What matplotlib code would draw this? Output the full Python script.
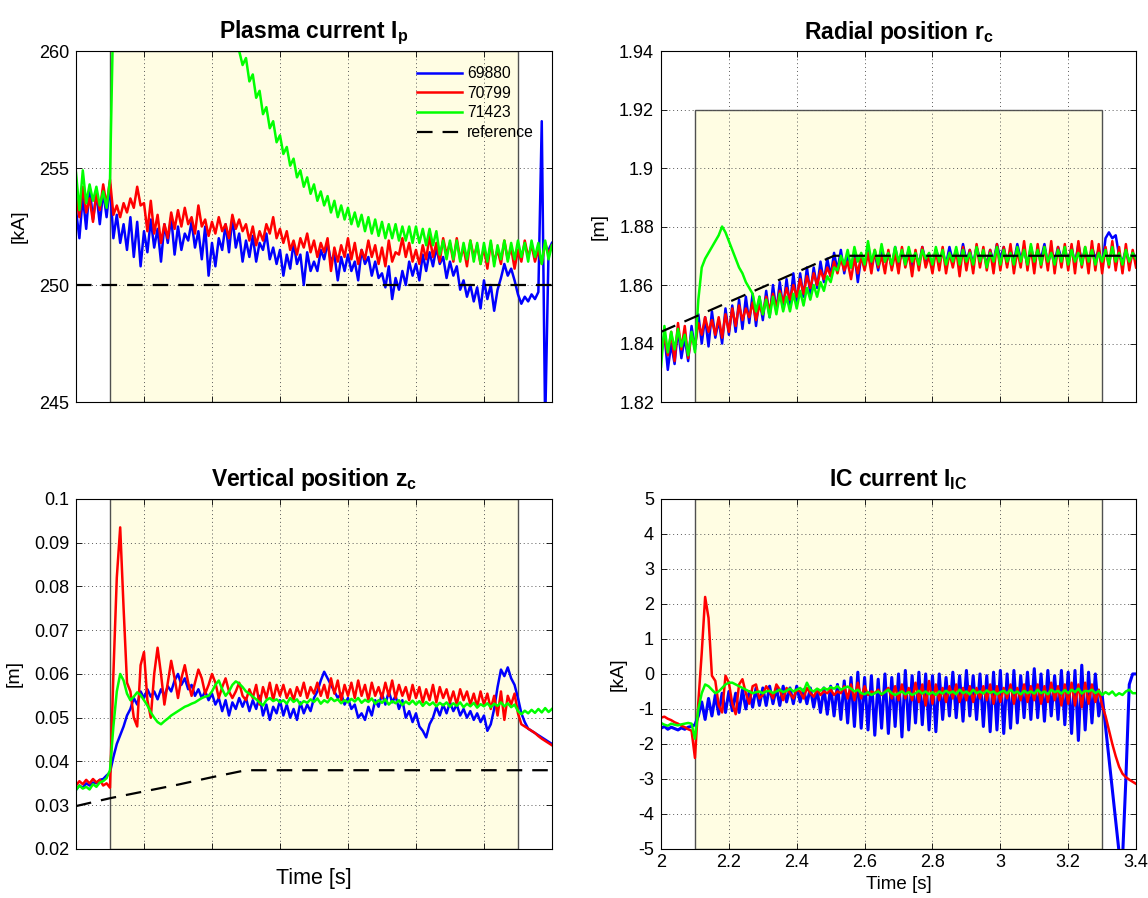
import numpy as np
import matplotlib
matplotlib.use("Agg")
import matplotlib.pyplot as plt
from matplotlib.patches import Rectangle
from matplotlib.ticker import FuncFormatter

plt.rcParams['font.family'] = ['Liberation Sans', 'DejaVu Sans']
plt.rcParams['mathtext.fontset'] = 'custom'
plt.rcParams['mathtext.rm'] = 'Liberation Sans'
plt.rcParams['mathtext.bf'] = 'Liberation Sans:bold'

# sampling grid of the traces, 2.00 .. 3.40 s every 10 ms
time = np.round(2.0 + 0.01 * np.arange(141), 2)
shots = ['69880', '70799', '71423']
colors = ['#0000ff', '#ff0000', '#00ff00']
shade_start, shade_end = 2.1, 3.3

# plasma current [kA]
ip_69880 = [253.2, 252.0, 253.8, 252.4, 254.2, 252.8, 253.9, 252.6, 254.0, 252.9,
            254.3, 252.0, 253.0, 251.8, 252.6, 251.5, 252.9, 251.2, 252.7, 250.8,
            252.3, 251.4, 252.8, 251.6, 252.4, 251.0, 252.6, 251.8, 252.9, 251.3,
            252.5, 251.5, 252.2, 251.9, 252.7, 251.6, 252.3, 251.1, 252.5, 250.4,
            251.8, 250.8, 252.0, 251.5, 252.6, 251.4, 252.9, 251.6, 252.2, 251.0,
            251.9, 251.2, 252.1, 251.0, 251.8, 251.5, 252.2, 251.1, 251.6, 250.9,
            251.5, 250.4, 251.3, 250.7, 251.8, 250.9, 251.3, 250.0, 251.4, 250.6,
            251.0, 250.6, 251.5, 251.1, 251.8, 251.0, 251.3, 250.2, 251.2, 250.6,
            251.3, 250.6, 251.0, 250.2, 251.5, 250.9, 251.2, 250.4, 251.0, 250.3,
            250.5, 249.9, 250.8, 249.4, 250.3, 249.8, 250.6, 250.0, 251.0, 250.4,
            250.9, 250.2, 251.3, 250.6, 251.4, 250.8, 251.6, 250.9, 251.2, 250.3,
            251.0, 250.4, 250.8, 249.8, 250.2, 249.5, 250.0, 249.3, 249.9, 249.0,
            250.2, 249.4, 250.0, 248.9, 249.8, 250.3, 250.9, 250.4, 250.7, 250.2,
            249.6, 249.2, 249.5, 249.3, 249.6, 249.4, 249.7, 257.0, 244.0, 251.5,
            251.8]
ip_70799 = [253.8, 252.9, 254.2, 253.1, 253.7, 252.7, 253.9, 253.2, 254.3, 253.4,
            254.5, 253.0, 253.4, 252.9, 253.5, 253.1, 253.7, 253.3, 254.2, 253.4,
            253.5, 252.3, 253.6, 252.2, 253.0, 251.8, 252.6, 252.0, 253.1, 252.4,
            253.2, 252.5, 253.3, 252.6, 252.9, 252.2, 253.4, 252.5, 252.8, 252.1,
            252.7, 252.2, 252.9, 252.3, 252.6, 252.0, 253.0, 252.4, 252.8, 252.3,
            252.6, 251.9, 252.5, 251.7, 252.3, 251.9, 252.6, 252.2, 252.9, 252.0,
            252.4, 251.8, 252.3, 251.5, 251.9, 251.3, 252.0, 251.6, 252.2, 251.4,
            251.9, 251.2, 251.8, 251.4, 252.0, 250.6, 251.6, 251.0, 251.7, 251.2,
            252.0, 251.1, 251.8, 250.9, 251.5, 251.1, 251.9, 251.2, 251.7, 250.9,
            251.6, 250.8, 251.9, 251.0, 251.4, 251.3, 252.0, 251.2, 251.8, 251.0,
            251.5, 250.9, 251.7, 251.1, 252.1, 251.2, 251.8, 251.0, 252.0, 251.3,
            251.8, 251.0, 252.0, 251.1, 251.6, 250.8, 251.9, 251.2, 251.7, 250.9,
            251.6, 250.7, 251.8, 251.0, 251.5, 250.9, 251.9, 251.1, 251.6, 250.7,
            251.5, 251.0, 251.9, 251.2, 251.7, 251.0, 251.5, 250.9, 251.8, 251.3,
            251.7]
ip_71423 = [254.8, 253.2, 254.9, 253.5, 254.3, 253.6, 254.2, 253.4, 254.0, 253.3,
            254.5, 262.0, 268.0, 272.0, 274.0, 275.0, 275.0, 274.5, 274.0, 273.0,
            272.0, 271.0, 270.0, 269.0, 268.0, 267.2, 266.4, 265.7, 265.0, 264.4,
            266.0, 265.6, 265.2, 264.8, 264.4, 264.0, 263.7, 263.4, 263.1, 262.8,
            262.5, 262.2, 261.9, 261.6, 261.3, 261.0, 260.7, 260.4, 260.0, 259.4,
            259.7, 258.7, 259.0, 258.0, 258.3, 257.3, 257.6, 256.7, 257.0, 256.1,
            256.4, 255.6, 255.9, 255.1, 255.4, 254.6, 254.9, 254.2, 254.6, 253.9,
            254.3, 253.6, 254.0, 253.4, 253.8, 253.1, 253.6, 252.9, 253.4, 252.8,
            253.3, 252.6, 253.1, 252.5, 253.0, 252.3, 252.9, 252.2, 252.8, 252.1,
            252.7, 252.0, 252.6, 252.0, 252.6, 251.9, 252.5, 251.9, 252.5, 251.8,
            252.5, 251.8, 252.4, 251.7, 252.4, 251.7, 252.3, 251.3, 251.9, 251.1,
            251.9, 251.1, 251.9, 251.0, 251.8, 251.1, 251.9, 251.0, 251.8, 250.9,
            251.8, 251.0, 251.9, 250.8, 251.7, 251.1, 251.9, 251.0, 251.8, 251.1,
            251.9, 251.2, 251.8, 251.0, 251.9, 251.2, 251.8, 250.9, 251.9, 251.1,
            251.7]
ip_ref_t = [2.0, 3.4]
ip_ref = [250.0, 250.0]

# radial position [m]
rc_69880 = [1.836, 1.843, 1.831, 1.840, 1.833, 1.845, 1.835, 1.842, 1.834, 1.846,
            1.838, 1.850, 1.840, 1.849, 1.839, 1.851, 1.842, 1.848, 1.840, 1.852,
            1.843, 1.853, 1.844, 1.855, 1.845, 1.856, 1.847, 1.857, 1.846, 1.856,
            1.848, 1.858, 1.849, 1.860, 1.851, 1.861, 1.852, 1.862, 1.853, 1.864,
            1.854, 1.864, 1.856, 1.866, 1.857, 1.866, 1.859, 1.868, 1.861, 1.869,
            1.863, 1.871, 1.865, 1.872, 1.864, 1.870, 1.866, 1.871, 1.861, 1.870,
            1.866, 1.872, 1.867, 1.871, 1.865, 1.872, 1.868, 1.871, 1.866, 1.873,
            1.867, 1.871, 1.868, 1.872, 1.866, 1.871, 1.867, 1.873, 1.868, 1.870,
            1.866, 1.872, 1.869, 1.871, 1.867, 1.873, 1.868, 1.872, 1.867, 1.874,
            1.868, 1.872, 1.867, 1.873, 1.869, 1.871, 1.867, 1.872, 1.868, 1.874,
            1.869, 1.873, 1.867, 1.872, 1.868, 1.874, 1.869, 1.872, 1.867, 1.873,
            1.868, 1.872, 1.869, 1.874, 1.867, 1.872, 1.868, 1.873, 1.869, 1.872,
            1.868, 1.873, 1.867, 1.874, 1.868, 1.872, 1.867, 1.873, 1.869, 1.872,
            1.866, 1.876, 1.878, 1.876, 1.877, 1.870, 1.868, 1.872, 1.867, 1.871,
            1.869]
rc_70799 = [1.838, 1.842, 1.836, 1.844, 1.834, 1.847, 1.838, 1.846, 1.835, 1.843,
            1.839, 1.847, 1.843, 1.849, 1.844, 1.848, 1.843, 1.849, 1.842, 1.850,
            1.844, 1.852, 1.846, 1.853, 1.848, 1.852, 1.849, 1.854, 1.848, 1.853,
            1.850, 1.856, 1.851, 1.857, 1.852, 1.858, 1.854, 1.859, 1.855, 1.860,
            1.856, 1.862, 1.857, 1.863, 1.859, 1.864, 1.860, 1.865, 1.862, 1.866,
            1.863, 1.868, 1.864, 1.869, 1.865, 1.868, 1.862, 1.869, 1.864, 1.870,
            1.865, 1.871, 1.864, 1.872, 1.866, 1.870, 1.864, 1.872, 1.865, 1.871,
            1.864, 1.873, 1.866, 1.871, 1.863, 1.872, 1.865, 1.873, 1.866, 1.870,
            1.864, 1.872, 1.865, 1.873, 1.864, 1.871, 1.866, 1.872, 1.863, 1.873,
            1.865, 1.872, 1.864, 1.874, 1.866, 1.873, 1.865, 1.872, 1.864, 1.874,
            1.865, 1.873, 1.866, 1.874, 1.864, 1.872, 1.866, 1.875, 1.865, 1.873,
            1.864, 1.874, 1.866, 1.873, 1.865, 1.875, 1.864, 1.873, 1.866, 1.874,
            1.865, 1.874, 1.864, 1.875, 1.866, 1.873, 1.864, 1.875, 1.865, 1.874,
            1.864, 1.873, 1.866, 1.875, 1.865, 1.873, 1.864, 1.874, 1.865, 1.872,
            1.866]
rc_71423 = [1.832, 1.846, 1.837, 1.844, 1.838, 1.845, 1.839, 1.843, 1.836, 1.844,
            1.837, 1.855, 1.866, 1.869, 1.871, 1.873, 1.875, 1.877, 1.880, 1.878,
            1.875, 1.872, 1.869, 1.866, 1.864, 1.861, 1.859, 1.857, 1.851, 1.856,
            1.850, 1.855, 1.849, 1.856, 1.850, 1.857, 1.851, 1.856, 1.851, 1.857,
            1.852, 1.858, 1.853, 1.859, 1.855, 1.860, 1.856, 1.861, 1.858, 1.863,
            1.861, 1.866, 1.865, 1.870, 1.867, 1.872, 1.866, 1.873, 1.868, 1.871,
            1.867, 1.875, 1.868, 1.872, 1.867, 1.874, 1.868, 1.871, 1.867, 1.873,
            1.868, 1.872, 1.867, 1.873, 1.868, 1.871, 1.867, 1.872, 1.869, 1.871,
            1.867, 1.873, 1.868, 1.872, 1.867, 1.871, 1.868, 1.873, 1.867, 1.872,
            1.868, 1.871, 1.867, 1.873, 1.868, 1.872, 1.866, 1.871, 1.868, 1.873,
            1.867, 1.872, 1.868, 1.871, 1.867, 1.873, 1.868, 1.872, 1.867, 1.874,
            1.868, 1.872, 1.867, 1.873, 1.868, 1.871, 1.867, 1.872, 1.868, 1.873,
            1.867, 1.872, 1.868, 1.871, 1.867, 1.873, 1.868, 1.872, 1.867, 1.871,
            1.868, 1.872, 1.867, 1.873, 1.868, 1.871, 1.867, 1.872, 1.868, 1.871,
            1.869]
rc_ref_t = [2.0, 2.51, 3.4]
rc_ref = [1.844, 1.870, 1.870]

# vertical position [m]
zc_69880 = [0.0335, 0.0345, 0.0340, 0.0350, 0.0345, 0.0352, 0.0350, 0.0358, 0.0360, 0.0368,
            0.0375, 0.0410, 0.0440, 0.0460, 0.0480, 0.0505, 0.0520, 0.0545, 0.0530, 0.0560,
            0.0545, 0.0565, 0.0548, 0.0560, 0.0542, 0.0565, 0.0550, 0.0572, 0.0560, 0.0585,
            0.0600, 0.0575, 0.0590, 0.0565, 0.0575, 0.0550, 0.0565, 0.0545, 0.0560, 0.0540,
            0.0555, 0.0530, 0.0545, 0.0515, 0.0540, 0.0505, 0.0535, 0.0520, 0.0545, 0.0525,
            0.0545, 0.0515, 0.0540, 0.0520, 0.0550, 0.0505, 0.0530, 0.0495, 0.0525, 0.0510,
            0.0540, 0.0505, 0.0530, 0.0500, 0.0520, 0.0495, 0.0535, 0.0510, 0.0530, 0.0515,
            0.0545, 0.0560, 0.0585, 0.0605, 0.0590, 0.0575, 0.0560, 0.0545, 0.0555, 0.0530,
            0.0545, 0.0520, 0.0530, 0.0500, 0.0510, 0.0495, 0.0525, 0.0505, 0.0540, 0.0525,
            0.0555, 0.0530, 0.0560, 0.0535, 0.0550, 0.0520, 0.0540, 0.0500, 0.0515, 0.0490,
            0.0510, 0.0480, 0.0470, 0.0455, 0.0485, 0.0500, 0.0525, 0.0505, 0.0530, 0.0510,
            0.0535, 0.0515, 0.0530, 0.0505, 0.0520, 0.0500, 0.0515, 0.0495, 0.0510, 0.0490,
            0.0505, 0.0470, 0.0485, 0.0520, 0.0570, 0.0610, 0.0595, 0.0615, 0.0590, 0.0575,
            0.0545, 0.0510, 0.0490, 0.0475, 0.0470, 0.0465, 0.0460, 0.0455, 0.0450, 0.0445,
            0.0440]
zc_70799 = [0.0345, 0.0355, 0.0348, 0.0358, 0.0350, 0.0360, 0.0352, 0.0358, 0.0345, 0.0350,
            0.0340, 0.0600, 0.0820, 0.0935, 0.0750, 0.0580, 0.0560, 0.0500, 0.0480, 0.0620,
            0.0650, 0.0540, 0.0500, 0.0600, 0.0660, 0.0600, 0.0530, 0.0580, 0.0630, 0.0590,
            0.0545, 0.0590, 0.0620, 0.0580, 0.0550, 0.0580, 0.0610, 0.0590, 0.0555, 0.0575,
            0.0600, 0.0580, 0.0545, 0.0570, 0.0590, 0.0560, 0.0545, 0.0560, 0.0580, 0.0550,
            0.0540, 0.0565, 0.0545, 0.0575, 0.0530, 0.0570, 0.0545, 0.0580, 0.0540, 0.0575,
            0.0550, 0.0575, 0.0545, 0.0565, 0.0540, 0.0570, 0.0550, 0.0580, 0.0545, 0.0570,
            0.0555, 0.0580, 0.0550, 0.0575, 0.0545, 0.0590, 0.0555, 0.0585, 0.0540, 0.0575,
            0.0550, 0.0580, 0.0545, 0.0585, 0.0550, 0.0575, 0.0540, 0.0580, 0.0550, 0.0570,
            0.0545, 0.0580, 0.0550, 0.0585, 0.0545, 0.0575, 0.0550, 0.0570, 0.0540, 0.0575,
            0.0545, 0.0570, 0.0535, 0.0565, 0.0540, 0.0575, 0.0535, 0.0570, 0.0545, 0.0565,
            0.0535, 0.0560, 0.0530, 0.0565, 0.0540, 0.0560, 0.0530, 0.0555, 0.0525, 0.0560,
            0.0530, 0.0555, 0.0520, 0.0550, 0.0505, 0.0560, 0.0495, 0.0550, 0.0530, 0.0555,
            0.0510, 0.0485, 0.0480, 0.0475, 0.0470, 0.0465, 0.0458, 0.0452, 0.0447, 0.0442,
            0.0437]
zc_71423 = [0.0335, 0.0345, 0.0338, 0.0342, 0.0336, 0.0348, 0.0342, 0.0352, 0.0355, 0.0362,
            0.0380, 0.0480, 0.0560, 0.0600, 0.0585, 0.0555, 0.0540, 0.0548, 0.0558, 0.0552,
            0.0540, 0.0528, 0.0512, 0.0500, 0.0490, 0.0485, 0.0492, 0.0498, 0.0505, 0.0510,
            0.0515, 0.0520, 0.0525, 0.0528, 0.0532, 0.0535, 0.0540, 0.0545, 0.0548, 0.0550,
            0.0560, 0.0575, 0.0585, 0.0565, 0.0550, 0.0560, 0.0575, 0.0583, 0.0578, 0.0570,
            0.0560, 0.0555, 0.0548, 0.0542, 0.0535, 0.0528, 0.0540, 0.0545, 0.0538, 0.0542,
            0.0535, 0.0540, 0.0532, 0.0545, 0.0536, 0.0542, 0.0530, 0.0538, 0.0534, 0.0542,
            0.0536, 0.0544, 0.0532, 0.0540, 0.0535, 0.0545, 0.0538, 0.0542, 0.0533, 0.0540,
            0.0535, 0.0543, 0.0537, 0.0545, 0.0534, 0.0541, 0.0536, 0.0544, 0.0532, 0.0540,
            0.0534, 0.0542, 0.0530, 0.0538, 0.0533, 0.0540, 0.0529, 0.0537, 0.0531, 0.0539,
            0.0530, 0.0538, 0.0527, 0.0536, 0.0529, 0.0535, 0.0526, 0.0534, 0.0528, 0.0535,
            0.0525, 0.0533, 0.0527, 0.0535, 0.0524, 0.0532, 0.0526, 0.0534, 0.0523, 0.0531,
            0.0526, 0.0533, 0.0524, 0.0532, 0.0527, 0.0535, 0.0526, 0.0533, 0.0524, 0.0530,
            0.0515, 0.0508, 0.0516, 0.0510, 0.0518, 0.0511, 0.0520, 0.0512, 0.0522, 0.0513,
            0.0520]
zc_ref_t = [2.0, 2.1, 2.3, 2.4, 2.5, 3.4]
zc_ref = [0.0298, 0.0316, 0.0347, 0.0364, 0.0380, 0.0380]

# IC current [kA]
ic_69880 = [-1.55, -1.50, -1.58, -1.52, -1.56, -1.60, -1.54, -1.58, -1.52, -1.50,
            -1.45, -1.20, -0.80, -1.30, -0.70, -1.20, -0.60, -1.15, -0.55, -1.10,
            -0.50, -1.05, -0.55, -1.10, -0.45, -1.00, -0.50, -0.95, -0.40, -0.90,
            -0.40, -0.90, -0.35, -0.85, -0.40, -0.90, -0.35, -0.80, -0.40, -0.85,
            -0.35, -0.80, -0.45, -0.85, -0.40, -0.95, -0.45, -1.10, -0.40, -1.15,
            -0.35, -1.20, -0.30, -1.30, -0.20, -1.40, -0.10, -1.50, 0.05, -1.55,
            -0.10, -1.60, -0.05, -1.75, -0.15, -1.55, 0.00, -1.70, -0.10, -1.50,
            0.00, -1.80, 0.10, -1.60, -0.05, -1.40, 0.05, -1.45, 0.00, -1.60,
            -0.05, -1.65, 0.00, -1.30, -0.10, -1.20, 0.05, -1.25, -0.05, -1.35,
            0.10, -1.20, -0.05, -1.30, 0.00, -1.50, -0.05, -1.65, 0.05, -1.60,
            0.10, -1.70, 0.00, -1.55, 0.10, -1.40, -0.05, -1.25, 0.05, -1.30,
            0.15, -1.25, 0.00, -1.35, 0.10, -1.20, -0.05, -1.30, 0.10, -1.45,
            0.05, -1.70, 0.10, -1.90, 0.25, -1.60, 0.05, -1.40, 0.00, -1.20,
            -0.60, -1.50, -2.40, -3.30, -4.20, -5.10, -5.30, -3.00, -0.30, 0.00,
            0.00]
ic_70799 = [-1.25, -1.22, -1.28, -1.32, -1.38, -1.42, -1.48, -1.52, -1.58, -1.62,
            -2.40, -0.80, 0.60, 2.20, 1.60, -0.05, -0.20, -0.90, -1.10, -0.05,
            -0.25, -0.85, -1.15, -0.30, -0.15, -0.55, -0.85, -0.35, -0.30, -0.70,
            -0.60, -0.35, -0.50, -0.70, -0.30, -0.45, -0.75, -0.40, -0.55, -0.70,
            -0.45, -0.50, -0.70, -0.40, -0.55, -0.65, -0.45, -0.60, -0.50, -0.55,
            -0.45, -0.60, -0.50, -0.55, -0.35, -0.70, -0.30, -0.75, -0.25, -0.70,
            -0.35, -0.60, -0.50, -0.55, -0.45, -0.60, -0.50, -0.40, -0.70, -0.35,
            -0.75, -0.30, -0.70, -0.40, -0.75, -0.25, -0.80, -0.30, -0.90, -0.20,
            -0.85, -0.30, -0.75, -0.40, -0.80, -0.35, -0.70, -0.30, -0.80, -0.40,
            -0.75, -0.35, -0.80, -0.40, -0.70, -0.35, -0.75, -0.30, -0.85, -0.35,
            -0.80, -0.40, -0.70, -0.30, -0.85, -0.40, -0.75, -0.30, -0.80, -0.35,
            -0.75, -0.30, -0.85, -0.35, -0.80, -0.25, -0.75, -0.35, -0.90, -0.30,
            -0.85, -0.25, -0.90, -0.30, -0.95, -0.25, -0.85, -0.30, -0.80, -0.45,
            -0.90, -1.20, -1.60, -2.00, -2.35, -2.65, -2.85, -2.95, -3.02, -3.08,
            -3.14]
ic_71423 = [-1.40, -1.45, -1.48, -1.42, -1.45, -1.47, -1.44, -1.42, -1.40, -1.42,
            -1.85, -1.00, -0.55, -0.30, -0.35, -0.45, -0.55, -0.50, -0.40, -0.30,
            -0.25, -0.25, -0.30, -0.35, -0.40, -0.45, -0.50, -0.55, -0.52, -0.50,
            -0.55, -0.50, -0.48, -0.55, -0.50, -0.45, -0.52, -0.48, -0.42, -0.50,
            -0.45, -0.40, -0.50, -0.25, -0.45, -0.50, -0.42, -0.48, -0.40, -0.45,
            -0.38, -0.42, -0.35, -0.45, -0.40, -0.36, -0.42, -0.50, -0.45, -0.55,
            -0.58, -0.52, -0.60, -0.55, -0.50, -0.58, -0.52, -0.45, -0.55, -0.60,
            -0.55, -0.50, -0.58, -0.52, -0.60, -0.55, -0.48, -0.56, -0.50, -0.58,
            -0.52, -0.60, -0.50, -0.56, -0.48, -0.55, -0.50, -0.58, -0.45, -0.55,
            -0.50, -0.58, -0.45, -0.55, -0.50, -0.56, -0.47, -0.54, -0.50, -0.58,
            -0.52, -0.48, -0.56, -0.45, -0.55, -0.50, -0.58, -0.48, -0.55, -0.50,
            -0.56, -0.45, -0.55, -0.50, -0.58, -0.45, -0.52, -0.48, -0.56, -0.46,
            -0.55, -0.45, -0.52, -0.42, -0.56, -0.48, -0.50, -0.45, -0.55, -0.48,
            -0.60, -0.52, -0.58, -0.50, -0.62, -0.55, -0.60, -0.50, -0.45, -0.55,
            -0.55]

panels = [
    dict(title=r'Plasma current I$_\mathbf{p}$', ylabel='[kA]', ylim=(245, 260), yticks=[245, 250, 255, 260],
         series=[ip_69880, ip_70799, ip_71423], ref=(ip_ref_t, ip_ref), shade_top=260),
    dict(title=r'Radial position r$_\mathbf{c}$', ylabel='[m]', ylim=(1.82, 1.94),
         yticks=[1.82, 1.84, 1.86, 1.88, 1.9, 1.92, 1.94],
         series=[rc_69880, rc_70799, rc_71423], ref=(rc_ref_t, rc_ref), shade_top=1.92),
    dict(title=r'Vertical position z$_\mathbf{c}$', ylabel='[m]', ylim=(0.02, 0.1),
         yticks=[0.02, 0.03, 0.04, 0.05, 0.06, 0.07, 0.08, 0.09, 0.1],
         series=[zc_69880, zc_70799, zc_71423], ref=(zc_ref_t, zc_ref), shade_top=0.1),
    dict(title=r'IC current I$_\mathbf{IC}$', ylabel='[kA]', ylim=(-5, 5), yticks=list(range(-5, 6)),
         series=[ic_69880, ic_70799, ic_71423], ref=None, shade_top=5),
]

axes_rects = [
    [0.0662, 0.5523, 0.4146, 0.3909],
    [0.5758, 0.5523, 0.4138, 0.3909],
    [0.0662, 0.0546, 0.4146, 0.3898],
    [0.5758, 0.0546, 0.4138, 0.3898],
]

fig = plt.figure(figsize=(11.48, 8.98), dpi=100)
fmt = FuncFormatter(lambda v, pos: '%g' % round(v, 6))

for i, (p, rect) in enumerate(zip(panels, axes_rects)):
    ax = fig.add_axes(rect)
    y0 = p['ylim'][0]
    ax.add_patch(Rectangle((shade_start, y0), shade_end - shade_start, p['shade_top'] - y0,
                           facecolor='#fffde3', edgecolor='#505050', lw=1.0, zorder=0.5))
    for s, c, name in zip(p['series'], colors, shots):
        lw = 2.2 if (i == 3 and name == '69880') else 1.8
        ax.plot(time, s, color=c, lw=lw, label=name, zorder=2)
    if p['ref'] is not None:
        ax.plot(p['ref'][0], p['ref'][1], color='black', lw=1.6, ls=(0, (7, 4.5)),
                label='reference', zorder=3)
    ax.set_xlim(2.0, 3.4)
    ax.set_ylim(*p['ylim'])
    ax.set_xticks(np.round(np.arange(2.0, 3.41, 0.2), 1))
    ax.set_yticks(p['yticks'])
    ax.yaxis.set_major_formatter(fmt)
    ax.xaxis.set_major_formatter(fmt)
    ax.grid(True, color='0.35', ls=(0, (1, 3)), lw=0.7)
    ax.tick_params(direction='in', top=True, right=True, length=4, width=0.6, labelsize=13)
    ax.tick_params(axis='y', pad=5)
    for sp in ax.spines.values():
        sp.set_linewidth(0.8)
    ax.set_title(p['title'], fontsize=16.5, fontweight='bold', pad=9)
    ax.set_ylabel(p['ylabel'], fontsize=14, labelpad=8)
    if i != 3:
        ax.tick_params(labelbottom=False)
    if i == 2:
        ax.set_xlabel('Time [s]', fontsize=15.5, labelpad=14)
    if i == 3:
        ax.set_xlabel('Time [s]', fontsize=13.5, labelpad=4)
    if i == 0:
        ax.legend(loc='upper right', bbox_to_anchor=(0.975, 0.975), frameon=False, fontsize=11.3,
                  handlelength=2.9, handletextpad=0.3, labelspacing=0.3, borderaxespad=0)

fig.savefig('out.png', dpi=100)
